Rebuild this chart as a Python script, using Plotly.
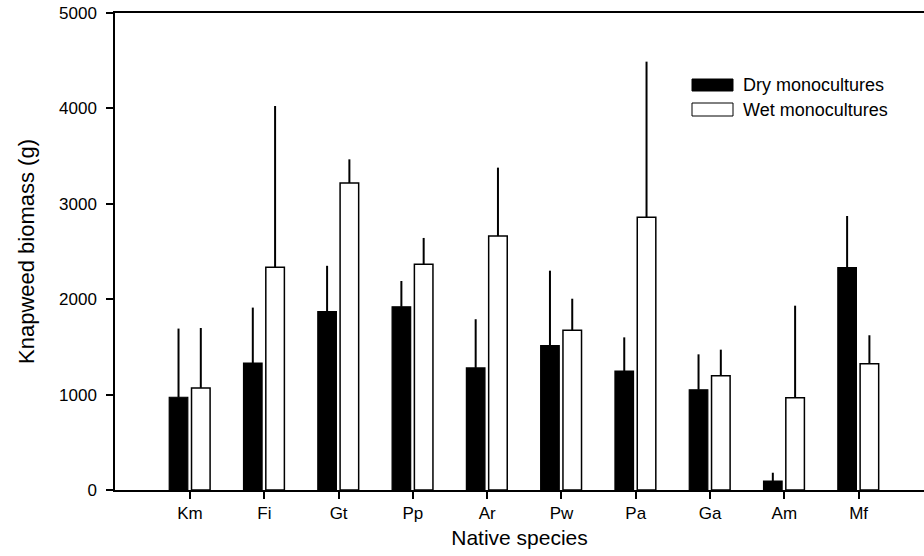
import plotly.graph_objects as go

species = ["Km", "Fi", "Gt", "Pp", "Ar", "Pw", "Pa", "Ga", "Am", "Mf"]
dry_mean = [972, 1330, 1870, 1920, 1280, 1513, 1247, 1051, 94, 2330]
dry_err = [720, 582, 480, 271, 510, 786, 353, 371, 87, 542]
wet_mean = [1070, 2334, 3218, 2366, 2662, 1674, 2858, 1198, 968, 1324]
wet_err = [628, 1691, 248, 276, 717, 331, 1632, 273, 964, 298]
y_ticks = [0, 1000, 2000, 3000, 4000, 5000]

FONT = "Liberation Sans, Arial, Helvetica, sans-serif"

fig = go.Figure()
fig.add_trace(go.Bar(
    x=species, y=dry_mean, name="Dry monocultures",
    marker=dict(color="black", line=dict(color="black", width=1.2)),
    width=0.25, offset=-0.28,
    error_y=dict(type="data", symmetric=False, array=dry_err,
                 arrayminus=[0] * len(dry_err), width=0, thickness=2, color="black"),
    showlegend=False,
))
fig.add_trace(go.Bar(
    x=species, y=wet_mean, name="Wet monocultures",
    marker=dict(color="white", line=dict(color="black", width=1.5)),
    width=0.25, offset=0.02,
    error_y=dict(type="data", symmetric=False, array=wet_err,
                 arrayminus=[0] * len(wet_err), width=0, thickness=2, color="black"),
    showlegend=False,
))

W, H = 924, 556
ml, mr, mt, mb = 115, 0, 13, 66
pw, ph = W - ml - mr, H - mt - mb

def px(x):
    return (x - ml) / pw

def py(y):
    return (H - mb - y) / ph

# custom legend
legend_items = [("Dry monocultures", "black", 79, 91), ("Wet monocultures", "white", 103, 116)]
shapes = []
annotations = []
for label, col, y0, y1 in legend_items:
    shapes.append(dict(type="rect", xref="paper", yref="paper",
                       x0=px(692), x1=px(733), y0=py(y1), y1=py(y0),
                       fillcolor=col, line=dict(color="black", width=1)))
    annotations.append(dict(xref="paper", yref="paper", x=px(741), y=py((y0 + y1) / 2),
                            text=label, showarrow=False, xanchor="left", yanchor="middle",
                            font=dict(family=FONT, size=18, color="black")))

fig.update_layout(
    width=W, height=H,
    margin=dict(l=ml, r=mr, t=mt, b=mb, autoexpand=False),
    paper_bgcolor="white", plot_bgcolor="white",
    font=dict(family=FONT, color="black"),
    shapes=shapes, annotations=annotations,
    xaxis=dict(
        type="category", range=[-1.01, 9.88],
        showline=True, linecolor="black", linewidth=1.5, mirror=True,
        ticks="outside", ticklen=7, tickwidth=1.5, tickcolor="black",
        tickfont=dict(family=FONT, size=17, color="black"),
        showgrid=False, zeroline=False,
        title=dict(text="Native species", font=dict(family=FONT, size=21, color="black"), standoff=8),
    ),
    yaxis=dict(
        range=[0, 5000], tickvals=y_ticks,
        showline=True, linecolor="black", linewidth=1.5, mirror=False,
        ticks="outside", ticklen=7, tickwidth=1.5, tickcolor="black",
        tickfont=dict(family=FONT, size=17, color="black"),
        ticklabelstandoff=6,
        showgrid=False, zeroline=False,
        title=dict(text="Knapweed biomass (g)", font=dict(family=FONT, size=22, color="black"), standoff=18),
    ),
)

fig.write_html("out.html")
